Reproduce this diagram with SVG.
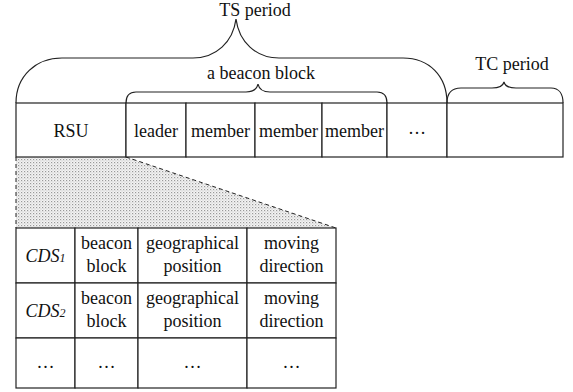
<svg xmlns="http://www.w3.org/2000/svg" width="573" height="392" viewBox="0 0 573 392" font-family="Liberation Serif, Times New Roman, serif">
<style>
text{font-size:18px;fill:#111;text-anchor:middle}
.i{font-style:italic}
.sub{font-size:12px}
.cell{fill:#fff;stroke:#222;stroke-width:1.2}
.brace{fill:none;stroke:#222;stroke-width:1.2}
.dash{fill:none;stroke:#222;stroke-width:1;stroke-dasharray:4,3}
</style>
<defs>
<pattern id="dots" width="3" height="3" patternUnits="userSpaceOnUse">
<rect width="3" height="3" fill="#f4f4f4"/>
<rect x="0" y="0" width="1.2" height="1.2" fill="#999"/>
<rect x="1.5" y="1.5" width="1" height="1" fill="#bbb"/>
</pattern>
</defs>

<g id="connectors">
<path class="brace" d="M16,103 C16,76 36,58 62,58 L193,58 C216,58 233,42 236,19 C239,42 256,58 279,58 L403,58 C429,58 447,76 447,103"/>
<path class="brace" d="M126,103 C126,96 129,92 136,92 L246,92 C253,92 257,89 258,84 C259,89 263,92 270,92 L377,92 C384,92 387,96 387,103"/>
<path class="brace" d="M447,103 C447,94 451,88 461,88 L492,88 C499,88 503,86 504,82 C505,86 509,88 516,88 L551,88 C559,88 563,94 563,103"/>
<polygon points="16,157 126,157 336,228 16,228" fill="url(#dots)" stroke="none"/>
<line class="dash" x1="16" y1="157" x2="16" y2="228"/>
<line class="dash" x1="126" y1="157" x2="336" y2="228"/>
</g>

<g id="labels">
<text x="255" y="16">TS period</text>
<text x="261" y="79">a beacon block</text>
<text x="512" y="70">TC period</text>
</g>

<g id="top-row">
<g id="rsu"><rect class="cell" x="16" y="103" width="110" height="54"/><text x="71" y="137">RSU</text></g>
<g id="leader"><rect class="cell" x="126" y="103" width="60" height="54"/><text x="156" y="137">leader</text></g>
<g id="member1"><rect class="cell" x="186" y="103" width="69" height="54"/><text x="220.5" y="137">member</text></g>
<g id="member2"><rect class="cell" x="255" y="103" width="67" height="54"/><text x="288.5" y="137">member</text></g>
<g id="member3"><rect class="cell" x="322" y="103" width="65" height="54"/><text x="354.5" y="137">member</text></g>
<g id="more"><rect class="cell" x="387" y="103" width="60" height="54"/><text x="417" y="134">…</text></g>
<g id="tc"><rect class="cell" x="447" y="103" width="116" height="54"/></g>
</g>

<g id="table">
<g id="r1c1"><rect class="cell" x="16" y="228" width="59" height="55"/><text class="i" x="45.5" y="262">CDS<tspan class="sub">1</tspan></text></g>
<g id="r1c2"><rect class="cell" x="75" y="228" width="63" height="55"/><text x="106.5" y="249">beacon</text><text x="106.5" y="272">block</text></g>
<g id="r1c3"><rect class="cell" x="138" y="228" width="109" height="55"/><text x="192.5" y="249">geographical</text><text x="192.5" y="272">position</text></g>
<g id="r1c4"><rect class="cell" x="247" y="228" width="89" height="55"/><text x="291.5" y="249">moving</text><text x="291.5" y="272">direction</text></g>

<g id="r2c1"><rect class="cell" x="16" y="283" width="59" height="55"/><text class="i" x="45.5" y="317">CDS<tspan class="sub">2</tspan></text></g>
<g id="r2c2"><rect class="cell" x="75" y="283" width="63" height="55"/><text x="106.5" y="304">beacon</text><text x="106.5" y="327">block</text></g>
<g id="r2c3"><rect class="cell" x="138" y="283" width="109" height="55"/><text x="192.5" y="304">geographical</text><text x="192.5" y="327">position</text></g>
<g id="r2c4"><rect class="cell" x="247" y="283" width="89" height="55"/><text x="291.5" y="304">moving</text><text x="291.5" y="327">direction</text></g>

<g id="r3c1"><rect class="cell" x="16" y="338" width="59" height="50"/><text x="45.5" y="368">…</text></g>
<g id="r3c2"><rect class="cell" x="75" y="338" width="63" height="50"/><text x="106.5" y="368">…</text></g>
<g id="r3c3"><rect class="cell" x="138" y="338" width="109" height="50"/><text x="192.5" y="368">…</text></g>
<g id="r3c4"><rect class="cell" x="247" y="338" width="89" height="50"/><text x="291.5" y="368">…</text></g>
</g>
</svg>
